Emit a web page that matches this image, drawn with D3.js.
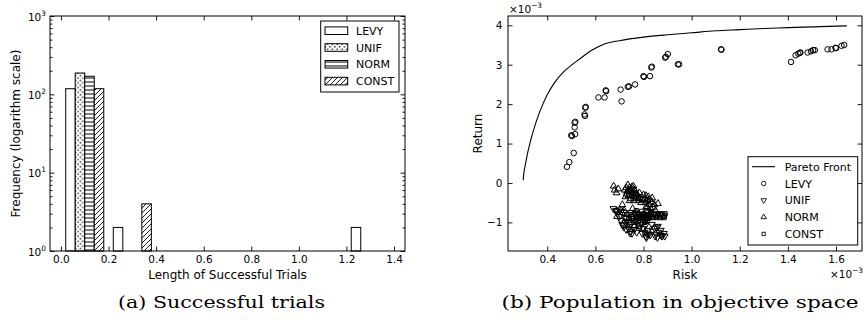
<!DOCTYPE html>
<html><head><meta charset="utf-8">
<script src="https://cdn.jsdelivr.net/npm/d3@7"></script>
<style>
body{margin:0;background:#fff}
svg text{font-family:"DejaVu Sans",sans-serif;fill:#000}
</style>
</head><body><svg id="c" width="864" height="326"></svg>
<script>
// ---------- data: histogram (a) ----------
const seriesNames = ["LEVY", "UNIF", "NORM", "CONST"];
const binEdges = [0, 0.2, 0.4, 0.6, 0.8, 1.0, 1.2, 1.4];
const levyCounts = [118, 2, 0, 0, 0, 0, 2];
const unifCounts = [187, 0, 0, 0, 0, 0, 0];
const normCounts = [170, 0, 0, 0, 0, 0, 0];
const constCounts = [118, 4, 0, 0, 0, 0, 0];
const histXTicks = [0, 0.2, 0.4, 0.6, 0.8, 1.0, 1.2, 1.4];
const histYExponents = [0, 1, 2, 3];

// ---------- data: objective space (b), units of 1e-3 ----------
const paretoRisk = [0.300,0.303,0.310,0.320,0.335,0.355,0.377,0.400,0.432,0.465,0.501,0.540,0.575,0.600,0.640,0.700,0.800,0.900,1.000,1.100,1.200,1.300,1.400,1.500,1.600,1.645];
const paretoReturn = [0.07,0.25,0.49,0.80,1.17,1.57,1.93,2.24,2.56,2.80,2.99,3.17,3.33,3.42,3.53,3.61,3.70,3.76,3.81,3.86,3.89,3.92,3.94,3.96,3.98,3.985];

const levyRisk = [0.482,0.492,0.510,0.500,0.503,0.516,0.514,0.514,0.517,0.555,0.557,0.558,0.560,0.613,0.638,0.643,0.645,0.705,0.709,0.735,0.740,0.765,0.800,0.802,0.827,0.832,0.835,0.890,0.893,0.901,0.943,0.948,1.122,1.124,1.413,1.432,1.443,1.450,1.452,1.482,1.496,1.505,1.512,1.565,1.581,1.598,1.600,1.623,1.634];
const levyReturn = [0.41,0.53,0.76,1.21,1.19,1.24,1.41,1.53,1.55,1.74,1.70,1.91,1.93,2.17,2.17,2.35,2.33,2.37,2.07,2.44,2.45,2.50,2.71,2.69,2.71,2.93,2.95,3.18,3.20,3.27,3.01,3.01,3.39,3.38,3.07,3.24,3.28,3.30,3.31,3.31,3.34,3.37,3.37,3.39,3.39,3.43,3.42,3.48,3.50];

const unifRisk = [0.675,0.685,0.692,0.700,0.705,0.712,0.718,0.725,0.730,0.738,0.745,0.752,0.760,0.768,0.775,0.782,0.790,0.798,0.805,0.810,0.815,0.820,0.828,0.835,0.845,0.852,0.858,0.865,0.870,0.878,0.885,0.860,0.700,0.720,0.740,0.755,0.800,0.717,0.744,0.812,0.853,0.874,0.888,0.708,0.722,0.735,0.748,0.762,0.772,0.785,0.795,0.808,0.822,0.838,0.848,0.872,0.690,0.728];
const unifReturn = [-0.65,-0.70,-0.78,-0.85,-0.95,-1.05,-1.12,-1.00,-0.90,-1.15,-1.22,-1.28,-1.10,-0.95,-1.05,-0.85,-1.00,-1.15,-1.25,-1.35,-1.30,-1.20,-1.32,-1.05,-1.15,-1.30,-1.38,-1.25,-1.32,-1.35,-1.28,-1.10,-0.68,-0.75,-0.80,-0.90,-0.95,-1.07,-1.27,-1.39,-1.12,-1.33,-1.35,-0.72,-0.88,-0.98,-1.05,-1.18,-1.25,-1.12,-1.28,-1.08,-1.30,-1.22,-1.35,-1.20,-0.72,-1.18];

const normRisk = [0.676,0.680,0.688,0.695,0.728,0.735,0.740,0.745,0.750,0.755,0.760,0.765,0.770,0.775,0.780,0.785,0.790,0.760,0.748,0.738,0.800,0.810,0.815,0.820,0.825,0.812,0.830,0.818,0.835,0.805,0.822,0.845,0.860,0.850,0.755,0.770,0.720,0.690,0.745,0.780,0.732,0.752,0.768,0.722,0.730,0.742,0.750,0.758,0.762,0.772,0.778,0.783,0.795,0.805,0.808,0.815,0.825,0.828,0.840,0.836,0.742,0.725,0.712];
const normReturn = [-0.08,-0.18,-0.25,-0.15,-0.12,-0.05,-0.20,-0.30,-0.15,-0.25,-0.35,-0.20,-0.40,-0.30,-0.45,-0.38,-0.50,-0.45,-0.40,-0.32,-0.30,-0.32,-0.45,-0.35,-0.55,-0.60,-0.65,-0.72,-0.48,-0.80,-0.85,-0.55,-0.52,-0.70,-0.65,-0.75,-0.70,-0.85,-1.00,-1.10,-0.22,-0.10,-0.28,-0.18,-0.28,-0.12,-0.22,-0.08,-0.18,-0.28,-0.38,-0.25,-0.42,-0.40,-0.50,-0.62,-0.42,-0.75,-0.62,-0.38,-0.45,-0.35,-0.55];

const constRisk = [0.750,0.760,0.768,0.775,0.782,0.790,0.798,0.805,0.812,0.820,0.828,0.835,0.842,0.850,0.858,0.865,0.872,0.880,0.888,0.890,0.885,0.795,0.805,0.815,0.778,0.730,0.740,0.770,0.760,0.792,0.752,0.758,0.765,0.772,0.780,0.788,0.795,0.802,0.810,0.818,0.825,0.832,0.840,0.848,0.855,0.862,0.870,0.878,0.886,0.745,0.800,0.820];
const constReturn = [-0.85,-0.80,-0.88,-0.82,-0.90,-0.84,-0.80,-0.88,-0.83,-0.90,-0.82,-0.86,-0.80,-0.84,-0.82,-0.86,-0.80,-0.84,-0.82,-0.78,-0.88,-0.95,-1.00,-0.95,-0.98,-0.80,-0.90,-0.70,-1.00,-0.72,-0.80,-0.90,-0.78,-0.86,-0.78,-0.90,-0.86,-0.78,-0.92,-0.80,-0.88,-0.78,-0.88,-0.78,-0.88,-0.78,-0.88,-0.78,-0.86,-0.75,-0.85,-0.85];

const riskTicks = [0.4, 0.6, 0.8, 1.0, 1.2, 1.4, 1.6];
const returnTicks = [-1, 0, 1, 2, 3, 4];

// ---------- drawing ----------
const svg = d3.select("#c");
const defs = svg.append("defs");
const pDots = defs.append("pattern").attr("id","hDots").attr("patternUnits","userSpaceOnUse").attr("width",4.8).attr("height",4.8);
pDots.append("rect").attr("width",4.8).attr("height",4.8).attr("fill","#fff");
pDots.append("circle").attr("cx",1.2).attr("cy",1.2).attr("r",0.8).attr("fill","#000");
pDots.append("circle").attr("cx",3.6).attr("cy",3.6).attr("r",0.8).attr("fill","#000");
const pH = defs.append("pattern").attr("id","hHor").attr("patternUnits","userSpaceOnUse").attr("width",10).attr("height",4);
pH.append("rect").attr("width",10).attr("height",4).attr("fill","#fff");
pH.append("line").attr("x1",0).attr("x2",10).attr("y1",2).attr("y2",2).attr("stroke","#000").attr("stroke-width",1);
const hd = 5;
const pD = defs.append("pattern").attr("id","hDiag").attr("patternUnits","userSpaceOnUse").attr("width",hd).attr("height",hd);
pD.append("rect").attr("width",hd).attr("height",hd).attr("fill","#fff");
pD.append("path").attr("d",`M-1,1 l2,-2 M0,${hd} l${hd},${-hd} M${hd-1},${hd+1} l2,-2`).attr("stroke","#000").attr("stroke-width",0.9);
const fills = ["#fff","url(#hDots)","url(#hHor)","url(#hDiag)"];

const TFS = 10.5;   // tick labels
const LFS = 12;     // axis labels
const GFS = 11;     // legend

// ===== Panel (a) =====
const A = {x0:50, x1:405, y0:16, y1:251};
const xa = d3.scaleLinear().domain([-0.046, 1.446]).range([A.x0, A.x1]);
const ya = d3.scaleLog().domain([1, 1000]).range([A.y1, A.y0]);
const gA = svg.append("g");
const allCounts = [levyCounts, unifCounts, normCounts, constCounts];
const bw = binEdges[1]-binEdges[0];
allCounts.forEach((counts, si) => {
  const bars = counts.map((c, bi) => ({c, left: binEdges[bi] + bw*(0.1 + 0.2*si), right: binEdges[bi] + bw*(0.1 + 0.2*(si+1))})).filter(d => d.c > 0);
  gA.selectAll(null).data(bars).enter().append("rect")
    .attr("x", d => xa(d.left)).attr("width", d => xa(d.right)-xa(d.left))
    .attr("y", d => ya(d.c)).attr("height", d => ya(1)-ya(d.c))
    .attr("fill", fills[si]).attr("stroke","#000").attr("stroke-width",1);
});
const MAJ = 4.5, MIN = 2.5;
function styleAxis(g){ g.select(".domain").remove(); g.selectAll("line").attr("stroke","#000").attr("stroke-width",0.9); g.selectAll("text").attr("font-size",TFS).attr("font-family","DejaVu Sans"); }
gA.append("g").attr("transform",`translate(0,${A.y1})`).call(d3.axisBottom(xa).tickValues(histXTicks).tickSize(-MAJ).tickPadding(5).tickFormat(d3.format(".1f"))).call(styleAxis);
gA.append("g").attr("transform",`translate(0,${A.y0})`).call(d3.axisTop(xa).tickValues(histXTicks).tickSize(-MAJ).tickFormat("")).call(styleAxis);
const majY = histYExponents.map(e => Math.pow(10,e));
const minY = [];
histYExponents.slice(0,-1).forEach(e => { for (let k=2;k<10;k++) minY.push(k*Math.pow(10,e)); });
gA.append("g").attr("transform",`translate(${A.x0},0)`).call(d3.axisLeft(ya).tickValues(majY).tickSize(-MAJ).tickFormat("")).call(styleAxis);
gA.append("g").attr("transform",`translate(${A.x0},0)`).call(d3.axisLeft(ya).tickValues(minY).tickSize(-MIN).tickFormat("")).call(styleAxis);
gA.append("g").attr("transform",`translate(${A.x1},0)`).call(d3.axisRight(ya).tickValues(majY).tickSize(-MAJ).tickFormat("")).call(styleAxis);
gA.append("g").attr("transform",`translate(${A.x1},0)`).call(d3.axisRight(ya).tickValues(minY).tickSize(-MIN).tickFormat("")).call(styleAxis);
histYExponents.forEach(e => {
  const t = gA.append("text").attr("x", A.x0-4).attr("y", ya(Math.pow(10,e))+4.5).attr("text-anchor","end").attr("font-size",TFS);
  t.append("tspan").text("10");
  t.append("tspan").attr("dy",-4.8).attr("font-size",7.4).text(String(e));
});
gA.append("rect").attr("x",A.x0).attr("y",A.y0).attr("width",A.x1-A.x0).attr("height",A.y1-A.y0).attr("fill","none").attr("stroke","#000").attr("stroke-width",1);
gA.append("text").attr("x",(A.x0+A.x1)/2).attr("y",279).attr("text-anchor","middle").attr("font-size",LFS).text("Length of Successful Trials");
gA.append("text").attr("transform",`translate(19.5,${(A.y0+A.y1)/2}) rotate(-90)`).attr("text-anchor","middle").attr("font-size",LFS).text("Frequency (logarithm scale)");
const LA = {x:320.7, y:21, w:78.3, h:71};
gA.append("rect").attr("x",LA.x).attr("y",LA.y).attr("width",LA.w).attr("height",LA.h).attr("fill","#fff").attr("stroke","#000").attr("stroke-width",1);
seriesNames.forEach((n,i) => {
  const cy = 30.7 + i*16.8;
  gA.append("rect").attr("x",325).attr("y",cy-3.8).attr("width",22.7).attr("height",7.6).attr("fill",fills[i]).attr("stroke","#000").attr("stroke-width",1);
  gA.append("text").attr("x",356).attr("y",cy+4).attr("font-size",GFS).text(n);
});
svg.append("text").attr("x",221.5).attr("y",308).attr("text-anchor","middle").attr("font-size",16.5)
  .style("font-family","'DejaVu Serif',serif").attr("textLength",207).attr("lengthAdjust","spacingAndGlyphs").text("(a) Successful trials");

// ===== Panel (b) =====
const B = {x0:508, x1:862, y0:16, y1:251};
const xb = d3.scaleLinear().domain([0.237, 1.708]).range([B.x0, B.x1]);
const yb = d3.scaleLinear().domain([-1.726, 4.236]).range([B.y1, B.y0]);
const gB = svg.append("g");
gB.append("path").datum(paretoRisk.map((r,i)=>[r, paretoReturn[i]]))
  .attr("d", d3.line().x(d=>xb(d[0])).y(d=>yb(d[1])).curve(d3.curveMonotoneX))
  .attr("fill","none").attr("stroke","#000").attr("stroke-width",1.1);
const symCircle = d3.symbol().type(d3.symbolCircle).size(24)();
const symTri = d3.symbol().type(d3.symbolTriangle).size(20)();
const symSq = d3.symbol().type(d3.symbolSquare).size(17)();
const markerDefs = [
  {risk: levyRisk, ret: levyReturn, path: symCircle, rot: 0},
  {risk: unifRisk, ret: unifReturn, path: symTri, rot: 180},
  {risk: normRisk, ret: normReturn, path: symTri, rot: 0},
  {risk: constRisk, ret: constReturn, path: symSq, rot: 0}
];
markerDefs.forEach(m => {
  const pts = m.risk.map((r,i)=>[r, m.ret[i]]);
  gB.selectAll(null).data(pts).enter().append("path")
    .attr("d", m.path)
    .attr("transform", d => `translate(${xb(d[0])},${yb(d[1])}) rotate(${m.rot})`)
    .attr("fill","none").attr("stroke","#000").attr("stroke-width",1);
});
gB.append("g").attr("transform",`translate(0,${B.y1})`).call(d3.axisBottom(xb).tickValues(riskTicks).tickSize(-MAJ).tickPadding(5).tickFormat(d3.format(".1f"))).call(styleAxis);
gB.append("g").attr("transform",`translate(0,${B.y0})`).call(d3.axisTop(xb).tickValues(riskTicks).tickSize(-MAJ).tickFormat("")).call(styleAxis);
gB.append("g").attr("transform",`translate(${B.x0},0)`).call(d3.axisLeft(yb).tickValues(returnTicks).tickSize(-MAJ).tickPadding(5.5).tickFormat(d => d < 0 ? "\u2212" + Math.abs(d) : String(d))).call(styleAxis);
gB.append("g").attr("transform",`translate(${B.x1},0)`).call(d3.axisRight(yb).tickValues(returnTicks).tickSize(-MAJ).tickFormat("")).call(styleAxis);
gB.append("rect").attr("x",B.x0).attr("y",B.y0).attr("width",B.x1-B.x0).attr("height",B.y1-B.y0).attr("fill","none").attr("stroke","#000").attr("stroke-width",1);
gB.append("text").attr("x",(B.x0+B.x1)/2).attr("y",279).attr("text-anchor","middle").attr("font-size",LFS).text("Risk");
gB.append("text").attr("transform",`translate(481.5,${(B.y0+B.y1)/2}) rotate(-90)`).attr("text-anchor","middle").attr("font-size",LFS).text("Return");
function sci(x, y, anchor){
  const t = gB.append("text").attr("x",x).attr("y",y).attr("font-size",TFS).attr("text-anchor",anchor);
  t.append("tspan").text("\u00d710");
  t.append("tspan").attr("dy",-4.8).attr("font-size",7.4).text("\u22123");
}
sci(509, 12.5, "start");
sci(863, 277.5, "end");
const LB = {x:748, y:156.7, w:109.7, h:88.3};
gB.append("rect").attr("x",LB.x).attr("y",LB.y).attr("width",LB.w).attr("height",LB.h).attr("fill","#fff").attr("stroke","#000").attr("stroke-width",1);
const legB = ["Pareto Front"].concat(seriesNames);
legB.forEach((n,i) => {
  const cy = 166.7 + i*16.8;
  if (i === 0) {
    gB.append("line").attr("x1",752).attr("x2",775).attr("y1",cy).attr("y2",cy).attr("stroke","#000").attr("stroke-width",1.1);
  } else {
    const m = markerDefs[i-1];
    gB.append("path").attr("d", m.path).attr("transform",`translate(763.7,${cy}) rotate(${m.rot}) scale(0.8)`)
      .attr("fill","none").attr("stroke","#000").attr("stroke-width",1.1);
  }
  gB.append("text").attr("x",784.7).attr("y",cy+4).attr("font-size",GFS).text(n);
});
svg.append("text").attr("x",680).attr("y",308).attr("text-anchor","middle").attr("font-size",16.5)
  .style("font-family","'DejaVu Serif',serif").attr("textLength",357).attr("lengthAdjust","spacingAndGlyphs").text("(b) Population in objective space");
</script>
</body></html>
